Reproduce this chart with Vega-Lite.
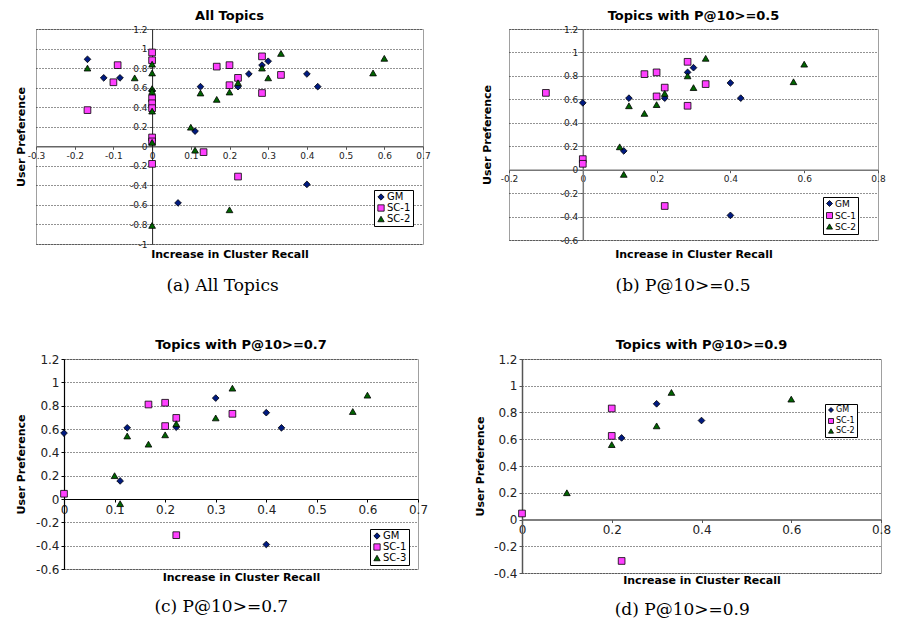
{
  "$schema": "https://vega.github.io/schema/vega-lite/v6.json",
  "background": "white",
  "padding": {"left": 13, "top": 9, "right": 0, "bottom": 0},
  "config": {
    "view": {"stroke": "#a0a0a0", "strokeWidth": 1},
    "font": "DejaVu Sans",
    "axis": {"labelFont": "DejaVu Sans", "titleFont": "DejaVu Sans", "titleFontWeight": "bold", "titleColor": "#000", "titleFontSize": 11, "labelColor": "#222", "gridColor": "#000", "gridDash": [1, 2], "gridOpacity": 0.85, "tickColor": "#555", "tickSize": 3, "domainColor": "#777", "domainWidth": 1.5, "labelFlush": false, "labelOverlap": false, "labelBound": false, "labelPadding": 2},
    "title": {"font": "DejaVu Sans", "fontWeight": "bold", "color": "#000", "anchor": "middle"},
    "legend": {"labelFont": "DejaVu Sans", "labelColor": "#000"}
  },
  "datasets": {
    "a": [
      {"x": 0, "y": 0.57, "s": "GM"}, {"x": 0.125, "y": 0.61, "s": "GM"}, {"x": 0.111, "y": 0.155, "s": "GM"}, {"x": 0.222, "y": 0.61, "s": "GM"}, {"x": 0.284, "y": 0.83, "s": "GM"}, {"x": 0.3, "y": 0.87, "s": "GM"}, {"x": 0.4, "y": 0.74, "s": "GM"}, {"x": 0.428, "y": 0.61, "s": "GM"}, {"x": 0.4, "y": -0.39, "s": "GM"},
      {"x": -0.167, "y": 0.89, "s": "GM"}, {"x": -0.125, "y": 0.7, "s": "GM"}, {"x": -0.083, "y": 0.7, "s": "GM"}, {"x": 0.25, "y": 0.74, "s": "GM"}, {"x": 0.067, "y": -0.58, "s": "GM"},
      {"x": -0.1, "y": 0.655, "s": "SC-1"}, {"x": 0, "y": 0.09, "s": "SC-1"}, {"x": 0, "y": 0.05, "s": "SC-1"}, {"x": 0.167, "y": 0.815, "s": "SC-1"}, {"x": 0.2, "y": 0.83, "s": "SC-1"}, {"x": 0.2, "y": 0.625, "s": "SC-1"}, {"x": 0.222, "y": 0.7, "s": "SC-1"}, {"x": 0.284, "y": 0.92, "s": "SC-1"}, {"x": 0.333, "y": 0.73, "s": "SC-1"}, {"x": 0.284, "y": 0.545, "s": "SC-1"}, {"x": 0.222, "y": -0.31, "s": "SC-1"},
      {"x": -0.167, "y": 0.37, "s": "SC-1"}, {"x": -0.089, "y": 0.83, "s": "SC-1"}, {"x": 0, "y": 0.96, "s": "SC-1"}, {"x": 0, "y": 0.88, "s": "SC-1"}, {"x": 0, "y": 0.49, "s": "SC-1"}, {"x": 0, "y": 0.44, "s": "SC-1"}, {"x": 0, "y": 0.39, "s": "SC-1"}, {"x": 0, "y": -0.18, "s": "SC-1"}, {"x": 0.133, "y": -0.06, "s": "SC-1"},
      {"x": 0.125, "y": 0.545, "s": "SC-2"}, {"x": 0.167, "y": 0.48, "s": "SC-2"}, {"x": 0.2, "y": 0.555, "s": "SC-2"}, {"x": 0.222, "y": 0.65, "s": "SC-2"}, {"x": 0.284, "y": 0.8, "s": "SC-2"}, {"x": 0.333, "y": 0.95, "s": "SC-2"}, {"x": 0.3, "y": 0.7, "s": "SC-2"}, {"x": 0.6, "y": 0.9, "s": "SC-2"}, {"x": 0.571, "y": 0.75, "s": "SC-2"}, {"x": 0.1, "y": 0.195, "s": "SC-2"}, {"x": 0.111, "y": -0.04, "s": "SC-2"},
      {"x": -0.167, "y": 0.8, "s": "SC-2"}, {"x": -0.045, "y": 0.7, "s": "SC-2"}, {"x": 0, "y": 0.84, "s": "SC-2"}, {"x": 0, "y": 0.75, "s": "SC-2"}, {"x": 0, "y": 0.59, "s": "SC-2"}, {"x": 0, "y": 0.56, "s": "SC-2"}, {"x": 0, "y": 0.36, "s": "SC-2"}, {"x": 0, "y": 0.04, "s": "SC-2"}, {"x": 0, "y": -0.81, "s": "SC-2"}, {"x": 0.2, "y": -0.65, "s": "SC-2"}
    ],
    "b": [
      {"x": 0, "y": 0.57, "s": "GM"}, {"x": 0.125, "y": 0.61, "s": "GM"}, {"x": 0.111, "y": 0.16, "s": "GM"}, {"x": 0.222, "y": 0.61, "s": "GM"}, {"x": 0.284, "y": 0.83, "s": "GM"}, {"x": 0.3, "y": 0.87, "s": "GM"}, {"x": 0.4, "y": 0.74, "s": "GM"}, {"x": 0.428, "y": 0.61, "s": "GM"}, {"x": 0.4, "y": -0.39, "s": "GM"},
      {"x": -0.1, "y": 0.655, "s": "SC-1"}, {"x": 0, "y": 0.09, "s": "SC-1"}, {"x": 0, "y": 0.05, "s": "SC-1"}, {"x": 0.167, "y": 0.815, "s": "SC-1"}, {"x": 0.2, "y": 0.83, "s": "SC-1"}, {"x": 0.2, "y": 0.625, "s": "SC-1"}, {"x": 0.222, "y": 0.7, "s": "SC-1"}, {"x": 0.284, "y": 0.92, "s": "SC-1"}, {"x": 0.333, "y": 0.73, "s": "SC-1"}, {"x": 0.284, "y": 0.545, "s": "SC-1"}, {"x": 0.222, "y": -0.31, "s": "SC-1"},
      {"x": 0.125, "y": 0.545, "s": "SC-2"}, {"x": 0.167, "y": 0.48, "s": "SC-2"}, {"x": 0.2, "y": 0.555, "s": "SC-2"}, {"x": 0.222, "y": 0.65, "s": "SC-2"}, {"x": 0.284, "y": 0.8, "s": "SC-2"}, {"x": 0.333, "y": 0.95, "s": "SC-2"}, {"x": 0.3, "y": 0.7, "s": "SC-2"}, {"x": 0.6, "y": 0.9, "s": "SC-2"}, {"x": 0.571, "y": 0.75, "s": "SC-2"}, {"x": 0.1, "y": 0.195, "s": "SC-2"}, {"x": 0.111, "y": -0.04, "s": "SC-2"}
    ],
    "c": [
      {"x": 0, "y": 0.565, "s": "GM"}, {"x": 0.111, "y": 0.155, "s": "GM"}, {"x": 0.125, "y": 0.61, "s": "GM"}, {"x": 0.222, "y": 0.615, "s": "GM"}, {"x": 0.3, "y": 0.865, "s": "GM"}, {"x": 0.4, "y": 0.74, "s": "GM"}, {"x": 0.43, "y": 0.61, "s": "GM"}, {"x": 0.4, "y": -0.39, "s": "GM"},
      {"x": 0, "y": 0.045, "s": "SC-1"}, {"x": 0.167, "y": 0.81, "s": "SC-1"}, {"x": 0.2, "y": 0.825, "s": "SC-1"}, {"x": 0.2, "y": 0.625, "s": "SC-1"}, {"x": 0.222, "y": 0.695, "s": "SC-1"}, {"x": 0.222, "y": -0.31, "s": "SC-1"}, {"x": 0.333, "y": 0.73, "s": "SC-1"},
      {"x": 0.1, "y": 0.2, "s": "SC-3"}, {"x": 0.111, "y": -0.04, "s": "SC-3"}, {"x": 0.125, "y": 0.54, "s": "SC-3"}, {"x": 0.167, "y": 0.47, "s": "SC-3"}, {"x": 0.2, "y": 0.55, "s": "SC-3"}, {"x": 0.222, "y": 0.645, "s": "SC-3"}, {"x": 0.3, "y": 0.695, "s": "SC-3"}, {"x": 0.333, "y": 0.95, "s": "SC-3"}, {"x": 0.571, "y": 0.75, "s": "SC-3"}, {"x": 0.6, "y": 0.89, "s": "SC-3"}
    ],
    "d": [
      {"x": 0.222, "y": 0.61, "s": "GM"}, {"x": 0.3, "y": 0.865, "s": "GM"}, {"x": 0.4, "y": 0.74, "s": "GM"},
      {"x": 0, "y": 0.045, "s": "SC-1"}, {"x": 0.2, "y": 0.83, "s": "SC-1"}, {"x": 0.2, "y": 0.625, "s": "SC-1"}, {"x": 0.222, "y": -0.31, "s": "SC-1"},
      {"x": 0.1, "y": 0.2, "s": "SC-2"}, {"x": 0.2, "y": 0.56, "s": "SC-2"}, {"x": 0.3, "y": 0.7, "s": "SC-2"}, {"x": 0.333, "y": 0.95, "s": "SC-2"}, {"x": 0.6, "y": 0.9, "s": "SC-2"}
    ]
  },
  "resolve": {"scale": {"color": "independent", "shape": "independent"}},
  "spacing": 44,
  "vconcat": [
    {
      "spacing": 0,
      "resolve": {"scale": {"color": "independent", "shape": "independent"}},
      "hconcat": [
        {"width": 1, "height": 1, "view": {"stroke": null}, "data": {"values": [{"k": 0}]}, "mark": {"type": "point", "size": 0, "opacity": 0}, "encoding": {}},
        {
          "spacing": 49,
          "resolve": {"scale": {"color": "independent", "shape": "independent"}},
          "hconcat": [
            {
              "title": {"text": "(a) All Topics", "orient": "bottom", "font": "DejaVu Serif", "fontSize": 17, "fontWeight": "normal", "offset": 18},
              "resolve": {"scale": {"color": "independent", "shape": "independent"}},
              "vconcat": [
                {
                  "title": {"text": "All Topics", "fontSize": 13, "offset": 2},
                  "width": 387, "height": 215,
                  "data": {"name": "a"},
                  "resolve": {"axis": {"x": "independent", "y": "independent"}},
                  "layer": [
                    {
                      "mark": {"type": "point", "filled": true, "opacity": 1, "stroke": "black", "strokeWidth": 0.8, "size": 45},
                      "encoding": {
                        "x": {"field": "x", "type": "quantitative", "scale": {"domain": [-0.3, 0.7], "nice": false, "zero": false}, "axis": {"orient": "bottom", "title": "Increase in Cluster Recall", "labels": false, "ticks": false, "domain": false, "grid": false, "titlePadding": 4}},
                        "y": {"field": "y", "type": "quantitative", "scale": {"domain": [-1, 1.2], "nice": false, "zero": false}, "axis": {"orient": "left", "title": "User Preference", "labels": false, "ticks": false, "domain": false, "grid": true, "values": [-1, -0.8, -0.6, -0.4, -0.2, 0.2, 0.4, 0.6, 0.8, 1, 1.2], "titlePadding": 10}},
                        "color": {"field": "s", "type": "nominal", "scale": {"domain": ["GM", "SC-1", "SC-2"], "range": ["#001a80", "#ff40ff", "#006400"]}, "legend": {"title": null, "orient": "none", "legendX": 338, "legendY": 161, "strokeColor": "black", "fillColor": "white", "padding": 2, "labelFontSize": 10, "symbolSize": 40, "rowPadding": 1, "labelOffset": 1, "symbolStrokeColor": "black", "symbolStrokeWidth": 0.8}},
                        "shape": {"field": "s", "type": "nominal", "scale": {"domain": ["GM", "SC-1", "SC-2"], "range": ["diamond", "square", "triangle-up"]}, "legend": {"title": null, "orient": "none", "legendX": 338, "legendY": 161, "strokeColor": "black", "fillColor": "white", "padding": 2, "labelFontSize": 10, "symbolSize": 40, "rowPadding": 1, "labelOffset": 1, "symbolStrokeColor": "black", "symbolStrokeWidth": 0.8}}
                      }
                    },
                    {
                      "mark": {"type": "point", "opacity": 0},
                      "encoding": {
                        "x": {"field": "x", "type": "quantitative", "scale": {"domain": [-0.3, 0.7], "nice": false, "zero": false}, "axis": {"orient": "bottom", "title": null, "offset": -97.7, "grid": false, "values": [-0.3, -0.2, -0.1, 0, 0.1, 0.2, 0.3, 0.4, 0.5, 0.6, 0.7], "labelExpr": "round(datum.value*10)/10 + ''", "labelFontSize": 9, "domainColor": "#666"}},
                        "y": {"field": "y", "type": "quantitative", "scale": {"domain": [-1, 1.2], "nice": false, "zero": false}, "axis": {"orient": "left", "title": null, "offset": -116.1, "grid": false, "values": [-1, -0.8, -0.6, -0.4, -0.2, 0, 0.2, 0.4, 0.6, 0.8, 1, 1.2], "labelExpr": "round(datum.value*10)/10 + ''", "labelFontSize": 9, "domainColor": "#222", "domainWidth": 1}}
                      }
                    }
                  ]
                }
              ]
            },
            {
              "title": {"text": "(b) P@10>=0.5", "orient": "bottom", "font": "DejaVu Serif", "fontSize": 17, "fontWeight": "normal", "offset": 18},
              "resolve": {"scale": {"color": "independent", "shape": "independent"}},
              "vconcat": [
                {
                  "title": {"text": "Topics with P@10>=0.5", "fontSize": 13, "offset": 2},
                  "width": 369, "height": 211,
                  "data": {"name": "b"},
                  "resolve": {"axis": {"x": "independent", "y": "independent"}},
                  "layer": [
                    {
                      "mark": {"type": "point", "filled": true, "opacity": 1, "stroke": "black", "strokeWidth": 0.8, "size": 45},
                      "encoding": {
                        "x": {"field": "x", "type": "quantitative", "scale": {"domain": [-0.2, 0.8], "nice": false, "zero": false}, "axis": {"orient": "bottom", "title": "Increase in Cluster Recall", "labels": false, "ticks": false, "domain": false, "grid": false, "titlePadding": 8}},
                        "y": {"field": "y", "type": "quantitative", "scale": {"domain": [-0.6, 1.2], "nice": false, "zero": false}, "axis": {"orient": "left", "title": "User Preference", "labels": false, "ticks": false, "domain": false, "grid": true, "values": [-0.6, -0.4, -0.2, 0.2, 0.4, 0.6, 0.8, 1, 1.2], "titlePadding": 17}},
                        "color": {"field": "s", "type": "nominal", "scale": {"domain": ["GM", "SC-1", "SC-2"], "range": ["#001a80", "#ff40ff", "#006400"]}, "legend": {"title": null, "orient": "none", "legendX": 314, "legendY": 168, "strokeColor": "black", "fillColor": "white", "padding": 2, "labelFontSize": 9, "symbolSize": 36, "rowPadding": 1, "labelOffset": 1, "symbolStrokeColor": "black", "symbolStrokeWidth": 0.8}},
                        "shape": {"field": "s", "type": "nominal", "scale": {"domain": ["GM", "SC-1", "SC-2"], "range": ["diamond", "square", "triangle-up"]}, "legend": {"title": null, "orient": "none", "legendX": 314, "legendY": 168, "strokeColor": "black", "fillColor": "white", "padding": 2, "labelFontSize": 9, "symbolSize": 36, "rowPadding": 1, "labelOffset": 1, "symbolStrokeColor": "black", "symbolStrokeWidth": 0.8}}
                      }
                    },
                    {
                      "mark": {"type": "point", "opacity": 0},
                      "encoding": {
                        "x": {"field": "x", "type": "quantitative", "scale": {"domain": [-0.2, 0.8], "nice": false, "zero": false}, "axis": {"orient": "bottom", "title": null, "offset": -70.3, "grid": false, "values": [-0.2, 0, 0.2, 0.4, 0.6, 0.8], "labelExpr": "round(datum.value*10)/10 + ''", "labelFontSize": 9, "domainColor": "#777"}},
                        "y": {"field": "y", "type": "quantitative", "scale": {"domain": [-0.6, 1.2], "nice": false, "zero": false}, "axis": {"orient": "left", "title": null, "offset": -73.8, "grid": false, "values": [-0.6, -0.4, -0.2, 0, 0.2, 0.4, 0.6, 0.8, 1, 1.2], "labelExpr": "round(datum.value*10)/10 + ''", "labelFontSize": 9, "domainColor": "#777"}}
                      }
                    }
                  ]
                }
              ]
            }
          ]
        }
      ]
    },
    {
      "spacing": 0,
      "resolve": {"scale": {"color": "independent", "shape": "independent"}},
      "hconcat": [
        {"width": 1, "height": 1, "view": {"stroke": null}, "data": {"values": [{"k": 0}]}, "mark": {"type": "point", "size": 0, "opacity": 0}, "encoding": {}},
        {
          "spacing": 44,
          "resolve": {"scale": {"color": "independent", "shape": "independent"}},
          "hconcat": [
            {
              "title": {"text": "(c) P@10>=0.7", "orient": "bottom", "font": "DejaVu Serif", "fontSize": 17, "fontWeight": "normal", "offset": 16},
              "resolve": {"scale": {"color": "independent", "shape": "independent"}},
              "vconcat": [
                {
                  "title": {"text": "Topics with P@10>=0.7", "fontSize": 13, "offset": 1},
                  "width": 354, "height": 210,
                  "data": {"name": "c"},
                  "resolve": {"axis": {"x": "independent", "y": "independent"}},
                  "layer": [
                    {
                      "mark": {"type": "point", "filled": true, "opacity": 1, "stroke": "black", "strokeWidth": 0.8, "size": 45},
                      "encoding": {
                        "x": {"field": "x", "type": "quantitative", "scale": {"domain": [0, 0.7], "nice": false, "zero": false}, "axis": {"orient": "bottom", "title": "Increase in Cluster Recall", "labels": false, "ticks": false, "domain": false, "grid": false, "titlePadding": 2}},
                        "y": {"field": "y", "type": "quantitative", "scale": {"domain": [-0.6, 1.2], "nice": false, "zero": false}, "axis": {"orient": "left", "title": "User Preference", "labels": false, "ticks": false, "domain": false, "grid": true, "values": [-0.6, -0.4, -0.2, 0.2, 0.4, 0.6, 0.8, 1, 1.2], "titlePadding": 38}},
                        "color": {"field": "s", "type": "nominal", "scale": {"domain": ["GM", "SC-1", "SC-3"], "range": ["#001a80", "#ff40ff", "#006400"]}, "legend": {"title": null, "orient": "none", "legendX": 306, "legendY": 170, "strokeColor": "black", "fillColor": "white", "padding": 2, "labelFontSize": 10, "symbolSize": 40, "rowPadding": 1, "labelOffset": 1, "symbolStrokeColor": "black", "symbolStrokeWidth": 0.8}},
                        "shape": {"field": "s", "type": "nominal", "scale": {"domain": ["GM", "SC-1", "SC-3"], "range": ["diamond", "square", "triangle-up"]}, "legend": {"title": null, "orient": "none", "legendX": 306, "legendY": 170, "strokeColor": "black", "fillColor": "white", "padding": 2, "labelFontSize": 10, "symbolSize": 40, "rowPadding": 1, "labelOffset": 1, "symbolStrokeColor": "black", "symbolStrokeWidth": 0.8}}
                      }
                    },
                    {
                      "mark": {"type": "point", "opacity": 0},
                      "encoding": {
                        "x": {"field": "x", "type": "quantitative", "scale": {"domain": [0, 0.7], "nice": false, "zero": false}, "axis": {"orient": "bottom", "title": null, "offset": -70, "grid": false, "values": [0, 0.1, 0.2, 0.3, 0.4, 0.5, 0.6, 0.7], "labelExpr": "round(datum.value*10)/10 + ''", "labelFontSize": 12, "domainColor": "#000", "domainWidth": 1.2, "tickColor": "#000"}},
                        "y": {"field": "y", "type": "quantitative", "scale": {"domain": [-0.6, 1.2], "nice": false, "zero": false}, "axis": {"orient": "left", "title": null, "offset": 0, "grid": false, "values": [-0.6, -0.4, -0.2, 0, 0.2, 0.4, 0.6, 0.8, 1, 1.2], "labelExpr": "round(datum.value*10)/10 + ''", "labelFontSize": 12, "domainColor": "#000", "domainWidth": 1.2, "tickColor": "#000"}}
                      }
                    }
                  ]
                }
              ]
            },
            {
              "title": {"text": "(d) P@10>=0.9", "orient": "bottom", "font": "DejaVu Serif", "fontSize": 17, "fontWeight": "normal", "offset": 16},
              "resolve": {"scale": {"color": "independent", "shape": "independent"}},
              "vconcat": [
                {
                  "title": {"text": "Topics with P@10>=0.9", "fontSize": 13, "offset": 1},
                  "width": 359, "height": 214,
                  "data": {"name": "d"},
                  "resolve": {"axis": {"x": "independent", "y": "independent"}},
                  "layer": [
                    {
                      "mark": {"type": "point", "filled": true, "opacity": 1, "stroke": "black", "strokeWidth": 0.8, "size": 45},
                      "encoding": {
                        "x": {"field": "x", "type": "quantitative", "scale": {"domain": [0, 0.8], "nice": false, "zero": false}, "axis": {"orient": "bottom", "title": "Increase in Cluster Recall", "labels": false, "ticks": false, "domain": false, "grid": false, "titlePadding": 1}},
                        "y": {"field": "y", "type": "quantitative", "scale": {"domain": [-0.4, 1.2], "nice": false, "zero": false}, "axis": {"orient": "left", "title": "User Preference", "labels": false, "ticks": false, "domain": false, "grid": true, "values": [-0.4, -0.2, 0.2, 0.4, 0.6, 0.8, 1, 1.2], "titlePadding": 37}},
                        "color": {"field": "s", "type": "nominal", "scale": {"domain": ["GM", "SC-1", "SC-2"], "range": ["#001a80", "#ff40ff", "#006400"]}, "legend": {"title": null, "orient": "none", "legendX": 303, "legendY": 45, "strokeColor": "black", "fillColor": "white", "padding": 2, "labelFontSize": 8, "symbolSize": 25, "rowPadding": 1, "labelOffset": 1, "symbolStrokeColor": "black", "symbolStrokeWidth": 0.8}},
                        "shape": {"field": "s", "type": "nominal", "scale": {"domain": ["GM", "SC-1", "SC-2"], "range": ["diamond", "square", "triangle-up"]}, "legend": {"title": null, "orient": "none", "legendX": 303, "legendY": 45, "strokeColor": "black", "fillColor": "white", "padding": 2, "labelFontSize": 8, "symbolSize": 25, "rowPadding": 1, "labelOffset": 1, "symbolStrokeColor": "black", "symbolStrokeWidth": 0.8}}
                      }
                    },
                    {
                      "mark": {"type": "point", "opacity": 0},
                      "encoding": {
                        "x": {"field": "x", "type": "quantitative", "scale": {"domain": [0, 0.8], "nice": false, "zero": false}, "axis": {"orient": "bottom", "title": null, "offset": -53.5, "grid": false, "values": [0, 0.2, 0.4, 0.6, 0.8], "labelExpr": "round(datum.value*10)/10 + ''", "labelFontSize": 12, "domainColor": "#555"}},
                        "y": {"field": "y", "type": "quantitative", "scale": {"domain": [-0.4, 1.2], "nice": false, "zero": false}, "axis": {"orient": "left", "title": null, "offset": 0, "grid": false, "values": [-0.4, -0.2, 0, 0.2, 0.4, 0.6, 0.8, 1, 1.2], "labelExpr": "round(datum.value*10)/10 + ''", "labelFontSize": 12, "domainColor": "#555"}}
                      }
                    }
                  ]
                }
              ]
            }
          ]
        }
      ]
    }
  ]
}
